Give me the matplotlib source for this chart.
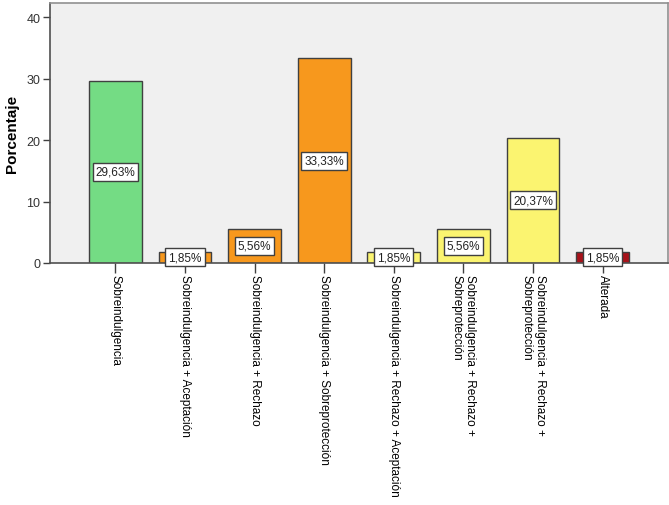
import matplotlib

matplotlib.use("Agg")
import matplotlib.pyplot as plt
import numpy as np

plt.rcParams["font.family"] = ["Liberation Sans", "DejaVu Sans"]

categorias = [
    "Sobreindulgencia",
    "Sobreindulgencia + Aceptación",
    "Sobreindulgencia + Rechazo",
    "Sobreindulgencia + Sobreprotección",
    "Sobreindulgencia + Rechazo + Aceptación",
    "Sobreindulgencia + Rechazo +\nSobreprotección",
    "Sobreindulgencia + Rechazo +\nSobreprotección",
    "Alterada",
]
porcentajes = [29.63, 1.85, 5.56, 33.33, 1.85, 5.56, 20.37, 1.85]
colores = ["#74dc84", "#f7981d", "#f7981d", "#f7981d",
           "#fbf470", "#fbf470", "#fbf470", "#a8121a"]
yticks = [0, 10, 20, 30, 40]

fig = plt.figure(figsize=(6.69, 5.06), dpi=100)
ax = fig.add_axes([50 / 669, 1 - 264 / 506, 618 / 669, 260 / 506])
ax.set_facecolor("#f0f0f0")

x = np.arange(len(categorias))
ax.bar(x, porcentajes, width=0.76, color=colores, edgecolor="#404040", linewidth=1.0, zorder=2)

# etiquetas de valor en el centro de cada barra
for xi, v in zip(x, porcentajes):
    ax.text(xi, v / 2, f"{v:.2f}".replace(".", ",") + "%", ha="center", va="center",
            fontsize=8.5, color="#222222", zorder=4,
            bbox=dict(boxstyle="square,pad=0.25", facecolor="white", edgecolor="#404040", linewidth=1.0))

ax.set_xlim(-0.94, len(categorias) - 1 + 0.94)
ax.set_ylim(0, 42.3)
ax.set_yticks(yticks)
ax.set_xticks(x)
ax.set_xticklabels(categorias, rotation=270, ha="center", va="top", multialignment="left", fontsize=8.5)
ax.tick_params(axis="x", length=7, width=1, color="#404040", pad=1)
ax.tick_params(axis="y", length=5, width=1, color="#404040", labelsize=9, labelcolor="#333333", pad=2)
ax.set_ylabel("Porcentaje", fontsize=11, fontweight="bold", labelpad=5)

for s in ["top", "right"]:
    ax.spines[s].set_color("#909090")
    ax.spines[s].set_linewidth(1.2)
for s in ["left", "bottom"]:
    ax.spines[s].set_color("#505050")
    ax.spines[s].set_linewidth(1.2)

fig.savefig("out.png", dpi=100)
